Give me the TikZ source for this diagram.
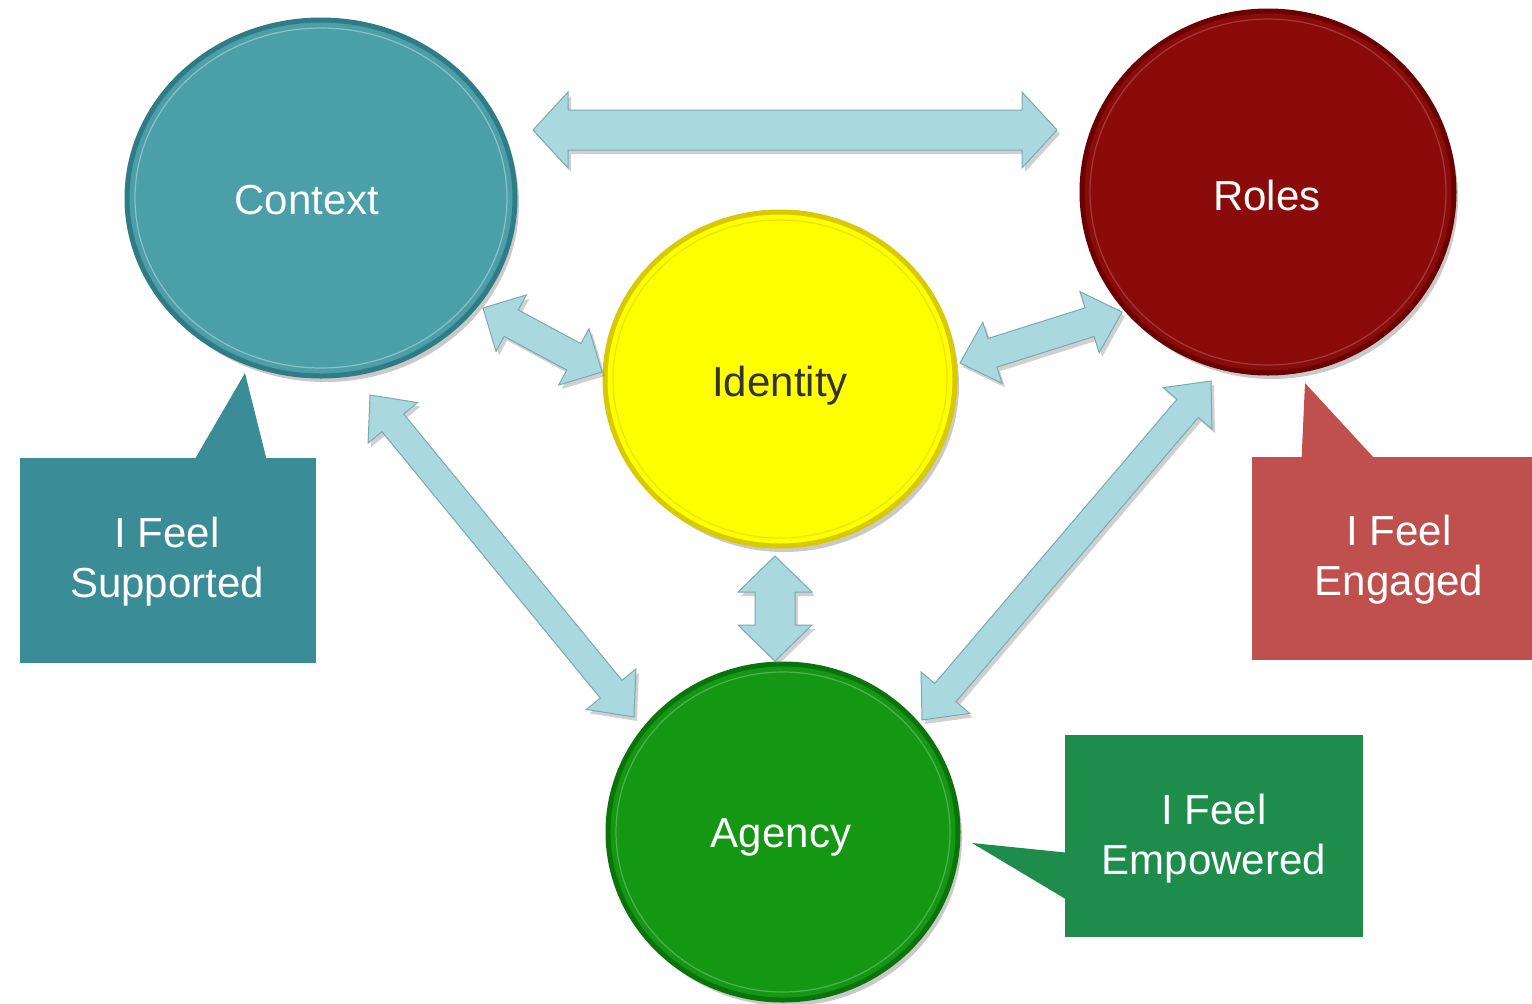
\documentclass[tikz,border=0pt]{standalone}
\usepackage{fontspec}
\setmainfont{Liberation Sans}
\usetikzlibrary{calc,shapes.geometric,shadows}
\definecolor{ctxfill}{HTML}{4B9FA8}
\definecolor{ctxrim}{HTML}{2F7C86}
\definecolor{rolfill}{HTML}{8B0A0A}
\definecolor{rolrim}{HTML}{6A0000}
\definecolor{idfill}{HTML}{FFFF00}
\definecolor{idrim}{HTML}{D9C900}
\definecolor{agfill}{HTML}{149814}
\definecolor{agrim}{HTML}{0A740A}
\definecolor{arrfill}{HTML}{A9D8DE}
\definecolor{arredge}{HTML}{7AAAB0}
\definecolor{supfill}{HTML}{3A8C96}
\definecolor{engfill}{HTML}{C0504D}
\definecolor{empfill}{HTML}{1E8C4A}
\tikzset{
  bigcircle/.style={ellipse, line width=2.5pt, inner sep=0pt,
    font=\fontsize{21}{25}\selectfont,
    drop shadow={shadow xshift=2pt, shadow yshift=-3pt, opacity=0.35, fill=black!60}},
  innerring/.style={line width=0.6pt, opacity=0.5},
  arrowshape/.style={fill=arrfill, draw=arredge, line width=0.5pt, line join=miter,
    drop shadow={shadow xshift=1.5pt, shadow yshift=-2pt, opacity=0.3, fill=black!60}},
  callbox/.style={rectangle, inner sep=0pt, align=center, text=white,
    font=\fontsize{21}{25}\selectfont},
  calltext/.style={align=center, text=white, font=\fontsize{21}{25}\selectfont},
}
% #1 from, #2 to, #3 shaft half-width, #4 head half-width, #5 head length
\newcommand\blockarrow[5]{%
  \path[arrowshape] let \p1=(#1), \p2=(#2), \p3=($(\p1)!#5!(\p2)$), \p4=($(\p2)!#5!(\p1)$) in
    (\p1) -- ($(\p3)!#4!90:(\p2)$) -- ($(\p3)!#3!90:(\p2)$) -- ($(\p4)!#3!-90:(\p1)$)
    -- ($(\p4)!#4!-90:(\p1)$) -- (\p2) -- ($(\p4)!#4!90:(\p1)$) -- ($(\p4)!#3!90:(\p1)$)
    -- ($(\p3)!#3!-90:(\p2)$) -- ($(\p3)!#4!-90:(\p2)$) -- cycle;}
\begin{document}
\begin{tikzpicture}[x=0.5pt,y=-0.5pt]
\useasboundingbox[fill=white] (0,0) rectangle (1532,1003);

% circles
\node[bigcircle, fill=ctxfill, draw=ctxrim, minimum width=194pt, minimum height=178pt] (ctx) at (321,198) {};
\node[bigcircle, fill=rolfill, draw=rolrim, minimum width=186pt, minimum height=181pt] (rol) at (1268,192) {};
\node[bigcircle, fill=idfill, draw=idrim, minimum width=175pt, minimum height=167pt] (idn) at (780,379) {};
\node[bigcircle, fill=agfill, draw=agrim, minimum width=175pt, minimum height=168pt] (agn) at (783,832) {};
\draw[innerring, draw=white!70!ctxfill] (ctx.center) ellipse (93pt and 85pt);
\draw[innerring, draw=white!40!rolfill] (rol.center) ellipse (89pt and 86.5pt);
\draw[innerring, draw=idrim] (idn.center) ellipse (83.5pt and 79.5pt);
\draw[innerring, draw=white!50!agfill] (agn.center) ellipse (83.5pt and 80pt);
\node[text=white, font=\fontsize{21}{25}\selectfont] (ctxT) at (307,200) {Context};
\node[text=white, font=\fontsize{21}{25}\selectfont] (rolT) at (1267,195) {Roles};
\node[text=black!80, font=\fontsize{21}{25}\selectfont] (idnT) at (780,386) {Identity};
\node[text=white, font=\fontsize{21}{25}\selectfont] (agnT) at (781,837) {Agency};

% arrow end points
\coordinate (t1a) at (533,130);  \coordinate (t1b) at (1057,130);
\coordinate (cia) at (483,308);  \coordinate (cib) at (602,372);
\coordinate (ria) at (960,363);  \coordinate (rib) at (1122,312);
\coordinate (caa) at (370,395);  \coordinate (cab) at (634,717);
\coordinate (raa) at (1211,381); \coordinate (rab) at (922,720);
\coordinate (iaa) at (775,556);  \coordinate (iab) at (775,661);

\blockarrow{t1a}{t1b}{10pt}{19pt}{17.5pt}
\blockarrow{cia}{cib}{7.5pt}{16pt}{16pt}
\blockarrow{ria}{rib}{7.5pt}{16pt}{17pt}
\blockarrow{caa}{cab}{7pt}{16pt}{18pt}
\blockarrow{raa}{rab}{7pt}{16pt}{18pt}
\blockarrow{iaa}{iab}{10pt}{18.5pt}{18pt}

% callouts
\node[callbox, fill=supfill, minimum width=148pt, minimum height=102.5pt] (sup) at (168,560.5) {};
\coordinate (supTip) at (245,373);
\fill[supfill] ($(sup.north west)+(175,2)$) -- (supTip) -- ($(sup.north west)+(247,2)$) -- cycle;
\node[calltext] (supT) at (167,562) {I Feel\\Supported};

\node[callbox, fill=engfill, minimum width=140pt, minimum height=101.5pt] (eng) at (1392,558.5) {};
\coordinate (engTip) at (1305,383);
\fill[engfill] ($(eng.north west)+(50,2)$) -- (engTip) -- ($(eng.north west)+(123,2)$) -- cycle;
\node[calltext] (engT) at (1399,560) {I Feel\\Engaged};

\node[callbox, fill=empfill, minimum width=149pt, minimum height=101pt] (emp) at (1214,836) {};
\coordinate (empTip) at (972,843);
\fill[empfill] ($(emp.north west)+(2,118)$) -- (empTip) -- ($(emp.north west)+(2,165)$) -- cycle;
\node[calltext] (empT) at (1214,839) {I Feel\\Empowered};
\end{tikzpicture}
\end{document}
